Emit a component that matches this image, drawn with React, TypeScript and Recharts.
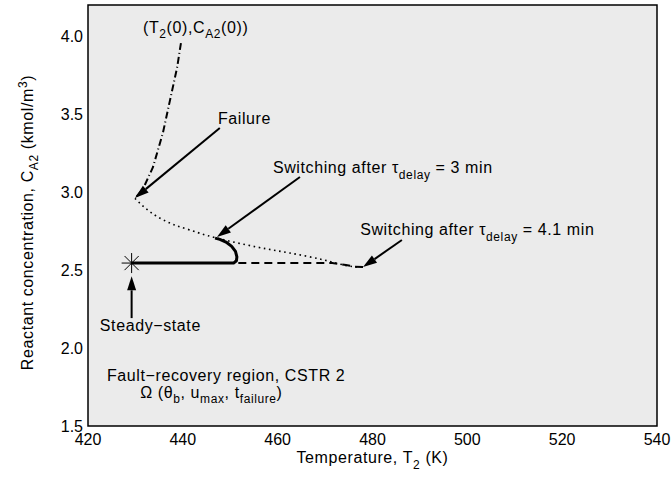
import {
  CartesianGrid,
  ComposedChart,
  Line,
  ReferenceArea,
  ReferenceDot,
  ReferenceLine,
  XAxis,
  YAxis
} from "recharts";

// axis ticks
const tempTicks = [420, 440, 460, 480, 500, 520, 540];
const concTicks = [1.5, 2.0, 2.5, 3.0, 3.5, 4.0];

// trajectory from initial condition to failure point (dash-dot)
const failureT = [439.6, 438.8, 437.3, 435.8, 433.7, 431.6, 429.9];
const failureC = [3.956, 3.8, 3.59, 3.38, 3.16, 3.02, 2.96];

// uncontrolled trajectory after failure (dotted)
const driftT = [429.9, 432.0, 434.5, 437.8, 441.5, 446.8, 455.6, 462.6, 469.6, 474.6, 478.0];
const driftC = [2.96, 2.9, 2.845, 2.795, 2.757, 2.708, 2.648, 2.609, 2.566, 2.528, 2.519];

// switching after 3 min (solid)
const switch3T = [446.8, 447.8, 449.1, 450.3, 451.1, 451.4, 451.3, 450.7, 429.2];
const switch3C = [2.705, 2.697, 2.68, 2.652, 2.62, 2.585, 2.56, 2.545, 2.545];

// switching after 4.1 min (dashed)
const switch41T = [478.0, 476.2, 474.4, 471.5, 429.2];
const switch41C = [2.519, 2.522, 2.532, 2.545, 2.545];

const steadyT = 429.2;
const steadyC = 2.545;

const toPoints = (t: number[], c: number[]) => t.map((v, i) => ({ t: v, c: c[i] }));

const FONT = "'Liberation Sans', Arial, Helvetica, sans-serif";

function arrowShape(props: any) {
  const { x1, y1, x2, y2 } = props;
  const ang = Math.atan2(y2 - y1, x2 - x1);
  const len = 14;
  const half = 4.5;
  const bx = x2 - len * Math.cos(ang);
  const by = y2 - len * Math.sin(ang);
  const px = -Math.sin(ang) * half;
  const py = Math.cos(ang) * half;
  return (
    <g>
      <line x1={x1} y1={y1} x2={bx} y2={by} stroke="#000" strokeWidth={2} />
      <polygon
        points={`${x2},${y2} ${bx + px},${by + py} ${bx - px},${by - py}`}
        fill="#000"
      />
    </g>
  );
}

function textShape(content: React.ReactNode, anchor: string = "start") {
  return (props: any) => (
    <text
      x={props.cx}
      y={props.cy}
      fontFamily={FONT}
      fontSize={16}
      letterSpacing={0.6}
      textAnchor={anchor}
      fill="#000"
    >
      {content}
    </text>
  );
}

function starShape(props: any) {
  const { cx, cy } = props;
  const r = 10;
  const d = r * Math.SQRT1_2;
  return (
    <g stroke="#000" strokeWidth={1}>
      <line x1={cx - r} y1={cy} x2={cx + r} y2={cy} />
      <line x1={cx} y1={cy - r} x2={cx} y2={cy + r} />
      <line x1={cx - d} y1={cy - d} x2={cx + d} y2={cy + d} />
      <line x1={cx - d} y1={cy + d} x2={cx + d} y2={cy - d} />
    </g>
  );
}

function XLabel(props: any) {
  const { viewBox } = props;
  const cx = viewBox.x + viewBox.width / 2;
  return (
    <text x={cx} y={viewBox.y + 37} textAnchor="middle" fontFamily={FONT} fontSize={16} letterSpacing={0.6}>
      Temperature, T<tspan dy={6} fontSize={12}>2</tspan>
      <tspan dy={-6}> (K)</tspan>
    </text>
  );
}

function YLabel(props: any) {
  const { viewBox } = props;
  const cy = viewBox.y + viewBox.height / 2 + 7;
  const x = 33;
  return (
    <text
      x={x}
      y={cy}
      transform={`rotate(-90 ${x} ${cy})`}
      textAnchor="middle"
      fontFamily={FONT}
      fontSize={16}
      letterSpacing={0.6}
    >
      Reactant concentration, C<tspan dy={5} fontSize={12}>A2</tspan>
      <tspan dy={-5}> (kmol/m</tspan>
      <tspan dy={-6} fontSize={12}>3</tspan>
      <tspan dy={6}>)</tspan>
    </text>
  );
}

export default function App() {
  return (
    <div style={{ position: "absolute", left: 0, top: 0, background: "#fff" }}>
      <ComposedChart
        width={671}
        height={479}
        margin={{ top: 5, right: 14, left: 0, bottom: 0 }}
      >
        <CartesianGrid fill="#ebebeb" horizontal={false} vertical={false} />
        <XAxis
          type="number"
          dataKey="t"
          domain={[420, 540]}
          ticks={tempTicks}
          allowDataOverflow
          height={53}
          axisLine={false}
          tickLine={false}
          tickSize={0}
          tickMargin={8}
          tick={{ fill: "#000", fontSize: 16, fontFamily: FONT }}
          label={<XLabel />}
        />
        <YAxis
          type="number"
          dataKey="c"
          domain={[1.5, 4.2]}
          ticks={concTicks}
          allowDataOverflow
          width={88}
          axisLine={false}
          tickLine={false}
          tickSize={0}
          tickMargin={5}
          tickFormatter={(v) => Number(v).toFixed(1)}
          tick={{ fill: "#000", fontSize: 16, fontFamily: FONT }}
          label={<YLabel />}
        />
        <Line
          data={toPoints(failureT, failureC)}
          dataKey="c"
          type="linear"
          stroke="#000"
          strokeWidth={2}
          strokeDasharray="7 3 1 3"
          dot={false}
          isAnimationActive={false}
        />
        <Line
          data={toPoints(driftT, driftC)}
          dataKey="c"
          type="natural"
          stroke="#000"
          strokeWidth={1.6}
          strokeDasharray="1.6 3.6"
          dot={false}
          isAnimationActive={false}
        />
        <Line
          data={toPoints(switch41T, switch41C)}
          dataKey="c"
          type="linear"
          stroke="#000"
          strokeWidth={2}
          strokeDasharray="8 5"
          dot={false}
          isAnimationActive={false}
        />
        <Line
          data={toPoints(switch3T, switch3C)}
          dataKey="c"
          type="linear"
          stroke="#000"
          strokeWidth={3}
          strokeLinejoin="round"
          dot={false}
          isAnimationActive={false}
        />
        <ReferenceDot x={steadyT} y={steadyC} r={0} ifOverflow="visible" shape={starShape} />

        <ReferenceLine
          segment={[{ x: 447.8, y: 3.411 }, { x: 429.9, y: 2.962 }]}
          ifOverflow="visible"
          shape={arrowShape}
        />
        <ReferenceLine
          segment={[{ x: 464.7, y: 3.097 }, { x: 447.2, y: 2.712 }]}
          ifOverflow="visible"
          shape={arrowShape}
        />
        <ReferenceLine
          segment={[{ x: 486.2, y: 2.693 }, { x: 478.0, y: 2.519 }]}
          ifOverflow="visible"
          shape={arrowShape}
        />
        <ReferenceLine
          segment={[{ x: steadyT, y: 2.192 }, { x: steadyT, y: 2.46 }]}
          ifOverflow="visible"
          shape={arrowShape}
        />

        <ReferenceDot
          x={431.6}
          y={4.021}
          r={0}
          ifOverflow="visible"
          shape={textShape(
            <>
              (T<tspan dy={5} fontSize={12}>2</tspan>
              <tspan dy={-5}>(0),C</tspan>
              <tspan dy={5} fontSize={12}>A2</tspan>
              <tspan dy={-5}>(0))</tspan>
            </>
          )}
        />
        <ReferenceDot x={447.4} y={3.437} r={0} ifOverflow="visible" shape={textShape("Failure")} />
        <ReferenceDot
          x={459.0}
          y={3.122}
          r={0}
          ifOverflow="visible"
          shape={textShape(
            <>
              Switching after τ<tspan dy={6} fontSize={12}>delay</tspan>
              <tspan dy={-6}> = 3 min</tspan>
            </>
          )}
        />
        <ReferenceDot
          x={477.4}
          y={2.725}
          r={0}
          ifOverflow="visible"
          shape={textShape(
            <>
              Switching after τ<tspan dy={6} fontSize={12}>delay</tspan>
              <tspan dy={-6}> = 4.1 min</tspan>
            </>
          )}
        />
        <ReferenceDot x={422.5} y={2.109} r={0} ifOverflow="visible" shape={textShape("Steady\u2212state")} />
        <ReferenceDot
          x={424.0}
          y={1.788}
          r={0}
          ifOverflow="visible"
          shape={textShape("Fault\u2212recovery region, CSTR 2")}
        />
        <ReferenceDot
          x={431.0}
          y={1.679}
          r={0}
          ifOverflow="visible"
          shape={textShape(
            <>
              Ω (θ<tspan dy={5} fontSize={12}>b</tspan>
              <tspan dy={-5}>, u</tspan>
              <tspan dy={5} fontSize={12}>max</tspan>
              <tspan dy={-5}>, t</tspan>
              <tspan dy={5} fontSize={12}>failure</tspan>
              <tspan dy={-5}>)</tspan>
            </>
          )}
        />
        <ReferenceArea
          x1={420}
          x2={540}
          y1={1.5}
          y2={4.2}
          fill="none"
          fillOpacity={0}
          stroke="#000"
          strokeWidth={1.5}
          ifOverflow="visible"
        />
      </ComposedChart>
    </div>
  );
}
